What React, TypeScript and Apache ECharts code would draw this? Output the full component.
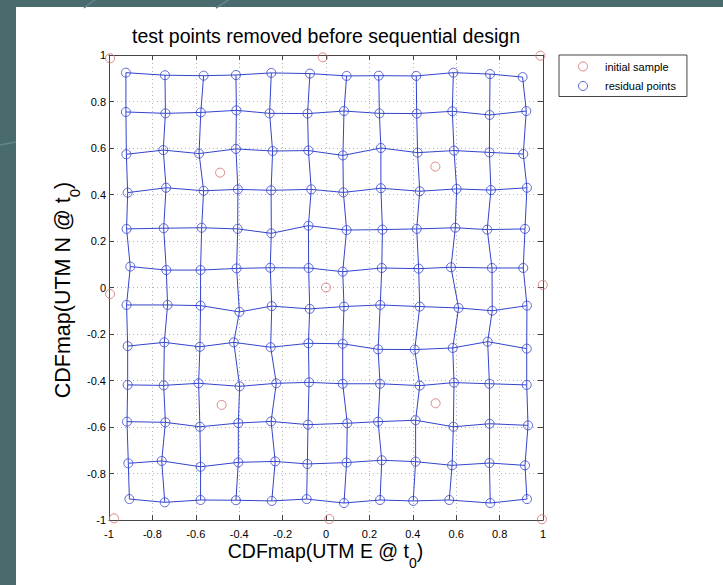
import React, { useEffect, useRef } from 'react';
import * as echarts from 'echarts';

// ---------- data ----------
const AXIS_MIN = -1;
const AXIS_MAX = 1;
const AXIS_STEP = 0.2;

const TITLE = 'test points removed before sequential design';
const X_LABEL = ['CDFmap(UTM E @ t', '0', ')'];
const Y_LABEL = ['CDFmap(UTM N @ t', '0', ')'];
const SERIES_INITIAL = 'initial sample';
const SERIES_RESIDUAL = 'residual points';

// residual points, one array per grid row (top to bottom), each [x, y]
const row01: [number, number][] = [[-0.922, 0.924], [-0.742, 0.913], [-0.564, 0.911], [-0.415, 0.914], [-0.252, 0.923], [-0.074, 0.920], [0.095, 0.910], [0.243, 0.911], [0.416, 0.910], [0.587, 0.924], [0.756, 0.918], [0.906, 0.905]];
const row02: [number, number][] = [[-0.922, 0.755], [-0.740, 0.749], [-0.577, 0.753], [-0.413, 0.762], [-0.260, 0.749], [-0.085, 0.748], [0.083, 0.759], [0.246, 0.749], [0.418, 0.748], [0.582, 0.758], [0.754, 0.742], [0.923, 0.759]];
const row03: [number, number][] = [[-0.920, 0.573], [-0.750, 0.591], [-0.585, 0.576], [-0.415, 0.596], [-0.246, 0.587], [-0.081, 0.589], [0.078, 0.568], [0.253, 0.600], [0.422, 0.580], [0.590, 0.589], [0.753, 0.581], [0.909, 0.574]];
const row04: [number, number][] = [[-0.914, 0.408], [-0.737, 0.429], [-0.564, 0.416], [-0.406, 0.422], [-0.253, 0.418], [-0.068, 0.422], [0.080, 0.409], [0.253, 0.427], [0.432, 0.414], [0.602, 0.424], [0.760, 0.419], [0.926, 0.429]];
const row05: [number, number][] = [[-0.919, 0.252], [-0.748, 0.255], [-0.573, 0.257], [-0.407, 0.252], [-0.252, 0.233], [-0.081, 0.266], [0.095, 0.247], [0.260, 0.249], [0.418, 0.252], [0.596, 0.257], [0.743, 0.249], [0.917, 0.252]];
const row06: [number, number][] = [[-0.902, 0.090], [-0.736, 0.075], [-0.578, 0.075], [-0.412, 0.082], [-0.257, 0.085], [-0.080, 0.084], [0.077, 0.068], [0.257, 0.084], [0.427, 0.081], [0.576, 0.087], [0.765, 0.084], [0.909, 0.084]];
const row07: [number, number][] = [[-0.919, -0.075], [-0.730, -0.075], [-0.578, -0.078], [-0.399, -0.105], [-0.250, -0.080], [-0.075, -0.092], [0.083, -0.082], [0.250, -0.075], [0.432, -0.082], [0.611, -0.088], [0.766, -0.100], [0.926, -0.078]];
const row08: [number, number][] = [[-0.914, -0.252], [-0.745, -0.236], [-0.581, -0.255], [-0.425, -0.236], [-0.255, -0.257], [-0.081, -0.240], [0.077, -0.242], [0.240, -0.266], [0.409, -0.267], [0.584, -0.260], [0.745, -0.233], [0.925, -0.263]];
const row09: [number, number][] = [[-0.914, -0.419], [-0.748, -0.421], [-0.587, -0.412], [-0.398, -0.425], [-0.229, -0.412], [-0.078, -0.408], [0.077, -0.414], [0.249, -0.414], [0.432, -0.422], [0.590, -0.409], [0.753, -0.414], [0.925, -0.419]];
const row10: [number, number][] = [[-0.917, -0.577], [-0.740, -0.580], [-0.581, -0.599], [-0.404, -0.583], [-0.253, -0.576], [-0.083, -0.590], [0.098, -0.584], [0.240, -0.577], [0.413, -0.571], [0.587, -0.599], [0.754, -0.586], [0.931, -0.593]];
const row11: [number, number][] = [[-0.911, -0.756], [-0.757, -0.746], [-0.578, -0.771], [-0.404, -0.752], [-0.234, -0.748], [-0.086, -0.759], [0.095, -0.753], [0.257, -0.743], [0.413, -0.749], [0.581, -0.765], [0.753, -0.755], [0.917, -0.765]];
const row12: [number, number][] = [[-0.906, -0.910], [-0.743, -0.924], [-0.578, -0.914], [-0.415, -0.915], [-0.250, -0.918], [-0.089, -0.910], [0.083, -0.927], [0.249, -0.914], [0.402, -0.918], [0.568, -0.914], [0.757, -0.927], [0.926, -0.910]];

const residualRows = [row01, row02, row03, row04, row05, row06, row07, row08, row09, row10, row11, row12];

const initialSample: [number, number][] = [
  [-0.995, 0.986], [-0.015, 0.990], [0.988, 0.997],
  [-0.488, 0.494], [0.504, 0.520],
  [-0.995, -0.028], [0.0, 0.0], [0.999, 0.011],
  [-0.481, -0.505], [0.505, -0.498],
  [-0.977, -0.993], [0.015, -0.996], [0.995, -0.997],
];

// ---------- style ----------
const FONT = "'Liberation Sans', Arial, Helvetica, sans-serif";
const BLUE = '#3344cc';
const RED = '#d46a6a';
const AXIS_COLOR = '#444';
const TEAL = '#4a6b6e';

function measure(text: string, size: number): number {
  const ctx = document.createElement('canvas').getContext('2d');
  if (!ctx) return text.length * size * 0.55;
  ctx.font = `${size}px ${FONT}`;
  return ctx.measureText(text).width;
}

function textEl(text: string, x: number, y: number, size: number, align = 'left') {
  return {
    type: 'text',
    x,
    y,
    silent: true,
    style: { text, fontSize: size, fontFamily: FONT, fill: '#000', align, verticalAlign: 'middle' },
  };
}

function labelParts(parts: string[], mainSize: number, subSize: number, subDy: number) {
  const w1 = measure(parts[0], mainSize);
  const w2 = measure(parts[1], subSize);
  const w3 = measure(parts[2], mainSize);
  const W = w1 + w2 + w3;
  const x0 = -W / 2;
  return [
    textEl(parts[0], x0, 0, mainSize),
    textEl(parts[1], x0 + w1, subDy, subSize),
    textEl(parts[2], x0 + w1 + w2, 0, mainSize),
  ];
}

function axisCommon(position: string, showLabels: boolean, isX: boolean) {
  return {
    type: 'value',
    min: AXIS_MIN,
    max: AXIS_MAX,
    interval: AXIS_STEP,
    position,
    axisLine: { show: true, onZero: false, lineStyle: { color: AXIS_COLOR, width: 1 } },
    axisTick: { show: true, inside: true, length: 5, lineStyle: { color: AXIS_COLOR, width: 1 } },
    axisLabel: {
      show: showLabels,
      fontSize: 11,
      fontFamily: FONT,
      color: '#000',
      margin: isX ? 8 : 3,
      showMinLabel: true,
      showMaxLabel: true,
    },
    splitLine: showLabels
      ? { show: true, lineStyle: { color: '#b4b4b4', width: 1, type: [1, 3] } }
      : { show: false },
  };
}

export default function App() {
  const ref = useRef<HTMLDivElement>(null);

  useEffect(() => {
    if (!ref.current) return;
    const chart = echarts.init(ref.current, undefined, { renderer: 'svg' });

    const lineBase = {
      type: 'line',
      symbol: 'none',
      showSymbol: false,
      silent: true,
      z: 2,
      lineStyle: { color: BLUE, width: 1 },
      emphasis: { disabled: true },
    };
    const rowSeries = residualRows.map((row, i) => ({ ...lineBase, name: `row ${i + 1}`, data: row }));
    const colSeries = residualRows[0].map((_, j) => ({
      ...lineBase,
      name: `column ${j + 1}`,
      data: residualRows.map((r) => r[j]),
    }));

    const option: any = {
      animation: false,
      backgroundColor: 'transparent',
      grid: { left: 109, right: 180, top: 55, bottom: 65, containLabel: false },
      xAxis: [axisCommon('bottom', true, true), axisCommon('top', false, true)],
      yAxis: [axisCommon('left', true, false), axisCommon('right', false, false)],
      legend: {
        orient: 'vertical',
        left: 559,
        top: 55,
        padding: [6, 11, 5, 19],
        itemGap: 8.5,
        itemWidth: 34,
        itemHeight: 9,
        borderColor: AXIS_COLOR,
        borderWidth: 1,
        borderRadius: 0,
        backgroundColor: '#fff',
        selectedMode: false,
        textStyle: { fontSize: 11, fontFamily: FONT, color: '#000' },
        data: [
          { name: SERIES_INITIAL, icon: 'circle', itemStyle: { color: 'transparent', borderColor: RED, borderWidth: 1 } },
          { name: SERIES_RESIDUAL, icon: 'circle', itemStyle: { color: 'transparent', borderColor: BLUE, borderWidth: 1 } },
        ],
      },
      series: [
        ...rowSeries,
        ...colSeries,
        {
          type: 'scatter',
          name: SERIES_RESIDUAL,
          data: residualRows.flat(),
          symbol: 'circle',
          symbolSize: 9,
          z: 3,
          silent: true,
          itemStyle: { color: 'transparent', borderColor: BLUE, borderWidth: 1 },
        },
        {
          type: 'scatter',
          name: SERIES_INITIAL,
          data: initialSample,
          symbol: 'circle',
          symbolSize: 9,
          clip: false,
          z: 4,
          silent: true,
          itemStyle: { color: 'transparent', borderColor: RED, borderWidth: 1 },
        },
      ],
      graphic: [
        // faint decorative streaks of the slide background
        { type: 'line', silent: true, shape: { x1: 84, y1: 8, x2: 96, y2: -1 }, style: { stroke: '#5f8789', lineWidth: 1.5 } },
        { type: 'line', silent: true, shape: { x1: 216, y1: 8, x2: 230, y2: -1 }, style: { stroke: '#5f8789', lineWidth: 1.5 } },
        { type: 'line', silent: true, shape: { x1: 0, y1: 145, x2: 16, y2: 142 }, style: { stroke: '#5f8789', lineWidth: 1.5 } },
        textEl(TITLE, 326, 35.5, 19.5, 'center'),
        { type: 'group', x: 325.5, y: 550.5, silent: true, children: labelParts(X_LABEL, 19.5, 14, 12) },
        {
          type: 'group',
          x: 62.5,
          y: 290,
          rotation: Math.PI / 2,
          silent: true,
          children: labelParts(Y_LABEL, 21.5, 15, 12),
        },
      ],
    };

    chart.setOption(option);
    return () => chart.dispose();
  }, []);

  return (
    <div style={{ position: 'fixed', left: 0, top: 0, width: 723, height: 585, background: TEAL, overflow: 'hidden' }}>
      <div style={{ position: 'absolute', left: 16, top: 7, width: 707, height: 578, background: '#fff' }} />
      <div ref={ref} style={{ position: 'absolute', left: 0, top: 0, width: 723, height: 585 }} />
    </div>
  );
}
